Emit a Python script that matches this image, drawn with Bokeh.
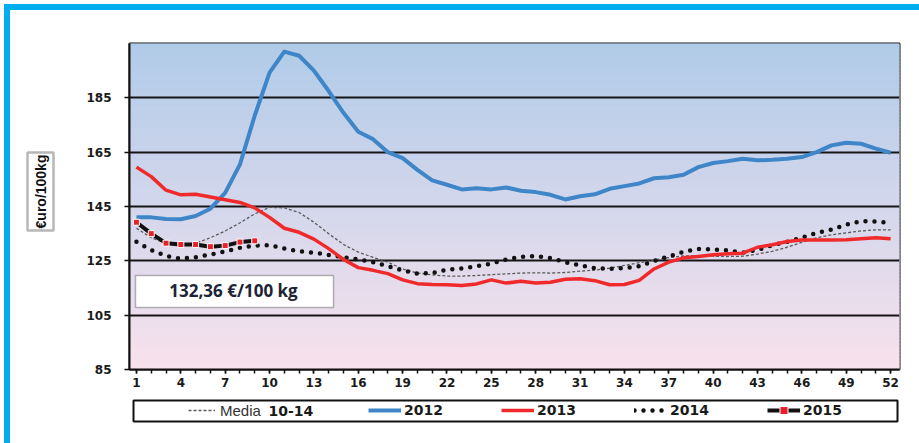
import numpy as np
from bokeh.plotting import figure
from bokeh.layouts import column, row
from bokeh.models import (Range1d, FixedTicker, BoxAnnotation, Label, Legend, LegendItem, Spacer)
from bokeh.embed import file_html
from bokeh.resources import INLINE

# ---------------- data ----------------
weeks = list(range(1, 53))
media_10_14 = [137.0, 133.5, 131.5, 131.0, 131.5, 133.5, 136.0, 139.0, 142.3, 144.7,
               144.5, 142.8, 139.2, 135.0, 131.0, 128.2, 126.3, 124.5, 122.0, 120.5,
               119.8, 119.4, 119.4, 119.6, 119.9, 120.2, 120.5, 120.6, 120.5, 120.7,
               121.2, 121.6, 122.3, 123.3, 124.3, 125.3, 126.2, 126.8, 126.8, 126.7,
               126.6, 126.7, 127.5, 128.5, 130.0, 131.8, 133.5, 134.6, 135.3, 136.0,
               136.4, 136.4]
y2012 = [141.0, 141.0, 140.4, 140.3, 141.5, 144.2, 150.0, 160.5, 178.5, 194.3,
         202.0, 200.5, 195.0, 187.5, 179.5, 172.5, 169.8, 165.0, 162.8, 158.5,
         154.6, 153.0, 151.3, 151.7, 151.3, 152.0, 150.8, 150.3, 149.3, 147.6,
         148.8, 149.5, 151.5, 152.5, 153.5, 155.4, 155.8, 156.7, 159.5, 161.0,
         161.7, 162.6, 162.0, 162.2, 162.6, 163.2, 165.0, 167.5, 168.5, 168.1,
         166.3, 164.8]
y2013 = [159.5, 156.0, 151.0, 149.3, 149.5, 148.5, 147.5, 146.5, 144.5, 141.0,
         137.0, 135.5, 133.0, 129.5, 125.5, 122.5, 121.5, 120.3, 118.0, 116.6,
         116.3, 116.2, 115.9, 116.5, 118.0, 116.8, 117.5, 116.8, 117.1, 118.2,
         118.4, 117.7, 116.2, 116.3, 117.8, 122.0, 124.5, 126.1, 126.6, 127.2,
         127.6, 127.8, 130.0, 130.9, 132.1, 132.7, 132.7, 132.7, 132.8, 133.1,
         133.5, 133.1]
y2014 = [132.0, 129.0, 126.8, 125.8, 126.3, 127.3, 128.5, 129.8, 130.6, 130.8,
         129.5, 128.5, 128.0, 127.2, 126.3, 125.5, 124.5, 123.0, 121.5, 120.3,
         120.5, 121.8, 122.2, 123.0, 124.0, 125.5, 126.5, 126.8, 126.0, 124.5,
         123.3, 122.3, 122.0, 122.3, 123.0, 125.0, 126.6, 128.3, 129.4, 129.2,
         128.8, 128.0, 129.0, 130.8, 132.0, 133.5, 135.3, 136.5, 138.3, 139.6,
         139.5, 139.0]
weeks_2015 = list(range(1, 10))
y2015 = [139.2, 135.0, 131.5, 131.0, 131.0, 130.2, 130.6, 131.9, 132.36]

x_tick_labels = list(range(1, 53, 3))
y_tick_values = [85, 105, 125, 145, 165, 185]
last_price_text = "132,36 €/100 kg"
y_axis_title = "€uro/100kg"

# styles
C_MEDIA = "#5a5a5a"
C_2012 = "#3f86c8"
C_2013 = "#f02a2a"
C_BLACK = "#111111"
C_2015M = "#e8202a"
CYAN = "#00aeef"

style_media = dict(line_color=C_MEDIA, line_width=1.3, line_dash="3 2")
style_2014 = dict(line_color=C_BLACK, line_width=4.5, line_dash="0 9", line_cap="round")
style_2012 = dict(line_color=C_2012, line_width=4, line_join="round")
style_2013 = dict(line_color=C_2013, line_width=3.5, line_join="round")
style_2015 = dict(line_color=C_BLACK, line_width=4)
style_2015m = dict(marker="square", size=6, fill_color=C_2015M, line_color="white", line_width=1)

def screen_box(l, r, b, t, **kw):
    return BoxAnnotation(left=l, right=r, bottom=b, top=t,
                         left_units="screen", right_units="screen",
                         bottom_units="screen", top_units="screen", **kw)

# ---------------- y-title box (narrow figure, same vertical borders as main) ----------------
pt = figure(width=60, height=388, output_backend="svg", toolbar_location=None,
            x_range=Range1d(0, 1), y_range=Range1d(0, 1),
            x_axis_type=None, y_axis_type=None,
            min_border_left=14, min_border_right=14, min_border_top=33, min_border_bottom=29)
pt.background_fill_color = "white"
pt.border_fill_color = "white"
pt.outline_line_color = None
pt.grid.visible = False
pt.add_layout(screen_box(3, 29, 139, 217, fill_color="white", fill_alpha=1,
                         line_color=C_BLACK, line_width=2.5))
pt.add_layout(Label(x=16, y=178, x_units="screen", y_units="screen", text=y_axis_title,
                    angle=np.pi / 2, text_font="Liberation Sans", text_font_style="bold",
                    text_font_size="14px", text_color=C_BLACK,
                    text_align="center", text_baseline="middle"))

# ---------------- main figure ----------------
X0, X1 = 0.53, 52.6
Y0, Y1 = 85, 205

p = figure(width=849, height=388, output_backend="svg", toolbar_location=None,
           x_range=Range1d(X0, X1), y_range=Range1d(Y0, Y1),
           min_border_left=59, min_border_right=20, min_border_top=33, min_border_bottom=29)
p.background_fill_color = "#d4d7ec"
p.border_fill_color = "white"
p.outline_line_color = C_BLACK
p.outline_line_width = 2

# gradient background (blue top -> pink bottom)
n = 90
edges = np.linspace(Y0, Y1, n + 1)
mid = (edges[:-1] + edges[1:]) / 2
tt = (mid - Y0) / (Y1 - Y0)
stops_t = [0.0, 0.5, 1.0]
stops_c = np.array([[248, 226, 236], [212, 215, 236], [176, 203, 232]])
cols = ['#%02x%02x%02x' % tuple(int(round(np.interp(t, stops_t, stops_c[:, k]))) for k in range(3))
        for t in tt]
p.quad(left=X0, right=X1, bottom=edges[:-1], top=edges[1:], fill_color=cols,
       line_color=cols, line_width=1, level="image")

# grid
p.xgrid.visible = False
p.ygrid.grid_line_color = "#151515"
p.ygrid.grid_line_width = 2

# axes
p.xaxis.ticker = FixedTicker(ticks=x_tick_labels, minor_ticks=weeks)
p.xaxis.major_tick_out = 4
p.xaxis.major_tick_in = 0
p.xaxis.minor_tick_out = 4
p.xaxis.minor_tick_in = 0
p.xaxis.major_label_standoff = 4
p.yaxis.ticker = FixedTicker(ticks=y_tick_values, minor_ticks=[])
p.yaxis.major_tick_out = 5
p.yaxis.major_tick_in = 0
p.yaxis.major_label_standoff = 13
for ax in (p.xaxis, p.yaxis):
    ax.axis_line_color = C_BLACK
    ax.axis_line_width = 2
    ax.major_tick_line_color = C_BLACK
    ax.major_tick_line_width = 1.5
    ax.minor_tick_line_color = C_BLACK
    ax.minor_tick_line_width = 1.5
    ax.major_label_text_font = "DejaVu Sans"
    ax.major_label_text_font_style = "bold"
    ax.major_label_text_font_size = "12px"
    ax.major_label_text_color = "#1a1a1a"

# series
p.line(weeks, media_10_14, **style_media)
p.line(weeks, y2014, **style_2014)
p.line(weeks, y2012, **style_2012)
p.line(weeks, y2013, **style_2013)
p.line(weeks_2015, y2015, **style_2015)
p.scatter(weeks_2015, y2015, **style_2015m)

# info box (last price)
p.add_layout(screen_box(6, 204, 62, 94, fill_color="white", fill_alpha=1,
                        line_color=C_BLACK, line_width=1.5))
p.add_layout(Label(x=104, y=79, x_units="screen", y_units="screen", text=last_price_text,
                   text_font="Open Sans", text_font_style="bold", text_font_size="17px",
                   text_color="#1c2436", text_align="center", text_baseline="middle"))

# ---------------- legend strip ----------------
pl = figure(width=909, height=45, output_backend="svg", toolbar_location=None,
            x_range=Range1d(0, 1), y_range=Range1d(0, 1),
            x_axis_type=None, y_axis_type=None,
            min_border_left=123, min_border_right=22, min_border_top=2, min_border_bottom=22)
pl.background_fill_color = "white"
pl.border_fill_color = "white"
pl.outline_line_color = C_BLACK
pl.outline_line_width = 2
pl.grid.visible = False

# legend renderers (same series; they fall outside this strip's ranges, only their keys show)
lm = pl.line(weeks, media_10_14, **style_media)
l12 = pl.line(weeks, y2012, **style_2012)
l13 = pl.line(weeks, y2013, **style_2013)
l14 = pl.line(weeks, y2014, **style_2014)
l15 = pl.line(weeks_2015, y2015, **style_2015)
l15m = pl.scatter(weeks_2015, y2015, **style_2015m)

leg1 = Legend(items=[LegendItem(label="Media", renderers=[lm])],
              location=(55, 1), orientation="horizontal",
              glyph_width=27, glyph_height=20, label_height=20, label_standoff=5,
              padding=0, margin=0, spacing=0, border_line_color=None, background_fill_alpha=0,
              label_text_font="Liberation Sans", label_text_font_size="15px",
              label_text_color="#333333")
pl.add_layout(leg1)
pl.add_layout(Label(x=135, y=11, x_units="screen", y_units="screen", text="10-14",
                    text_font="DejaVu Sans", text_font_style="bold", text_font_size="14px",
                    text_color="#1a1a1a", text_align="left", text_baseline="middle"))

leg2 = Legend(items=[LegendItem(label="2012", renderers=[l12]),
                     LegendItem(label="2013", renderers=[l13]),
                     LegendItem(label="2014", renderers=[l14]),
                     LegendItem(label="2015", renderers=[l15, l15m])],
              location=(235, 1), orientation="horizontal",
              glyph_width=33, glyph_height=20, label_height=20, label_standoff=3,
              label_width=90, padding=0, margin=0, spacing=7,
              border_line_color=None, background_fill_alpha=0,
              label_text_font="DejaVu Sans", label_text_font_style="bold",
              label_text_font_size="14px", label_text_color="#1a1a1a")
pl.add_layout(leg2)

# ---------------- page layout with cyan frame ----------------
top_bar = row(Spacer(width=4, height=6),
              Spacer(width=915, height=6, styles={"background-color": CYAN}))
body = row(Spacer(width=4, height=433),
           Spacer(width=6, height=433, styles={"background-color": CYAN}),
           column(row(pt, p), pl))
page = column(Spacer(width=919, height=4), top_bar, body)

open("out.html", "w").write(file_html(page, INLINE))
